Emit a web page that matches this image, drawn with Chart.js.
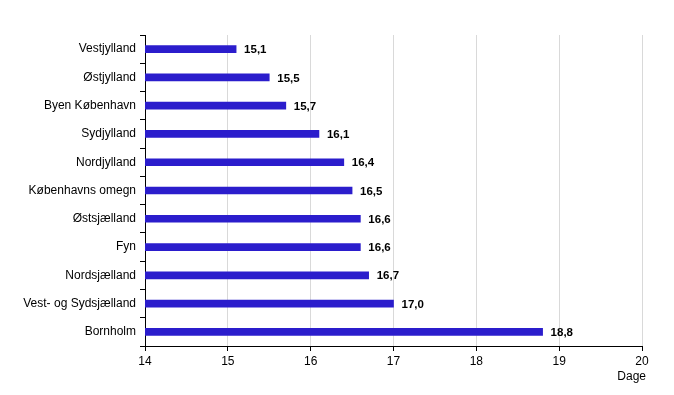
<!DOCTYPE html>
<html>
<head>
<meta charset="utf-8">
<script src="https://cdn.jsdelivr.net/npm/chart.js@4"></script>
<style>
  html, body { margin: 0; padding: 0; background: #fff; }
  #wrap { width: 674px; height: 395px; }
</style>
</head>
<body>
<div id="wrap"><canvas id="chart" width="674" height="395"></canvas></div>
<script>
// Landsdele og antal dage
const regions = ['Vestjylland', 'Østjylland', 'Byen København', 'Sydjylland', 'Nordjylland',
    'Københavns omegn', 'Østsjælland', 'Fyn', 'Nordsjælland', 'Vest- og Sydsjælland', 'Bornholm'];
const days = [15.1, 15.5, 15.7, 16.1, 16.4, 16.5, 16.6, 16.6, 16.7, 17.0, 18.8];
const xTicks = [14, 15, 16, 17, 18, 19, 20];
const unitLabel = 'Dage';

const FONT = '"Liberation Sans", Arial, sans-serif';

// Værdier til højre for søjlerne + enhed under x-aksen
const valueLabels = {
    id: 'valueLabels',
    afterDatasetsDraw(chart) {
        const ctx = chart.ctx;
        const meta = chart.getDatasetMeta(0);
        ctx.save();
        ctx.font = 'bold 11.5px ' + FONT;
        ctx.fillStyle = '#000';
        ctx.textAlign = 'left';
        ctx.textBaseline = 'middle';
        meta.data.forEach((bar, i) => {
            ctx.fillText(days[i].toFixed(1).replace('.', ','), bar.x + 8, bar.y + 1);
        });
        ctx.font = '12px ' + FONT;
        ctx.textAlign = 'right';
        ctx.fillText(unitLabel, chart.chartArea.right + 4, chart.chartArea.bottom + 31);
        ctx.restore();
    }
};

new Chart(document.getElementById('chart'), {
    type: 'bar',
    data: {
        labels: regions,
        datasets: [{
            data: days,
            backgroundColor: '#2b1dcc',
            barThickness: 7,
            borderWidth: 0
        }]
    },
    options: {
        indexAxis: 'y',
        responsive: false,
        animation: false,
        layout: { padding: { top: 35, right: 32, bottom: 10, left: 0 } },
        plugins: { legend: { display: false }, tooltip: { enabled: false } },
        scales: {
            x: {
                min: 14, max: 20,
                afterBuildTicks: s => { s.ticks = xTicks.map(v => ({ value: v })); },
                afterFit: s => { s.height = 39; },
                grid: { color: ctx => ctx.tick && ctx.tick.value === 14 ? 'rgba(0,0,0,0)' : '#d9d9d9',
                        tickColor: '#000', tickLength: 5, drawTicks: true },
                border: { color: '#000', width: 1 },
                ticks: { color: '#000', font: { family: FONT, size: 12 }, padding: 3, maxRotation: 0 }
            },
            y: {
                afterFit: s => { s.width = 145; },
                grid: { offset: true, drawOnChartArea: false, tickColor: '#000', tickLength: 5 },
                border: { color: '#000', width: 1 },
                ticks: { color: '#000', font: { family: FONT, size: 12 }, padding: 4 }
            }
        }
    },
    plugins: [valueLabels]
});
</script>
</body>
</html>
